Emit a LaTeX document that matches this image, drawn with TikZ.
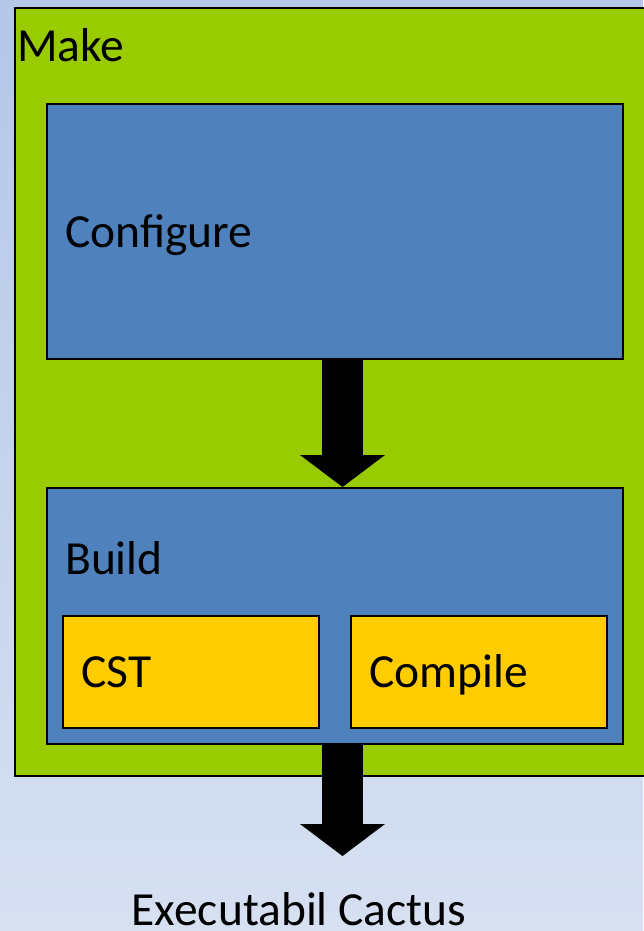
\documentclass[tikz,border=0pt]{standalone}
\usepackage{fontspec}
\setmainfont{Carlito}
\usetikzlibrary{arrows.meta, calc}
\definecolor{CGreen}{HTML}{99CC00}
\definecolor{CBlue}{HTML}{4F81BD}
\definecolor{CYellow}{HTML}{FFCC00}
\definecolor{CSkyTop}{HTML}{B4C7E7}
\definecolor{CSkyBot}{HTML}{D6E0F1}

\begin{document}
\begin{tikzpicture}[x=1pt, y=-1pt,
    box/.style={draw=black, line width=2pt, inner sep=0pt, anchor=north west},
    lbl/.style={font=\fontsize{47.5}{52}\selectfont, inner sep=0pt, anchor=base west},
    bigarrow/.style={line width=41pt, -{Triangle[width=85pt, length=32pt, line width=0pt]}}]
    \useasboundingbox (0,0) rectangle (643,931);

    % Background
    \shade[top color=CSkyTop, bottom color=CSkyBot] (0,0) rectangle (643,931);

    % Make (runs past the right edge)
    \node[box, fill=CGreen, minimum width=660, minimum height=768] (make) at (14,7) {};
    \node[lbl] (makelbl) at (17,62) {Make};

    % Configure
    \node[box, fill=CBlue, minimum width=576, minimum height=255] (conf) at (46,103) {};
    \node[lbl] (conflbl) at (65,247) {Configure};

    % Build with its two steps
    \node[box, fill=CBlue, minimum width=576, minimum height=256] (build) at (46,487) {};
    \node[lbl] (buildlbl) at (65,574) {Build};
    \node[box, fill=CYellow, minimum width=256, minimum height=112] (cst) at (62,615) {};
    \node[lbl] (cstlbl) at (81,687) {CST};
    \node[box, fill=CYellow, minimum width=256, minimum height=112] (comp) at (350,615) {};
    \node[lbl] (complbl) at (369,687) {Compile};

    % Result
    \node[lbl, anchor=base] (exe) at (299,925) {Executabil Cactus};

    % Arrows
    \coordinate (axis) at (342.5,0);
    \coordinate (tip) at (342.5,856);
    \draw[bigarrow] (conf.south -| axis) -- (build.north -| axis);
    \draw[bigarrow] (build.south -| axis) -- (tip);
\end{tikzpicture}
\end{document}
